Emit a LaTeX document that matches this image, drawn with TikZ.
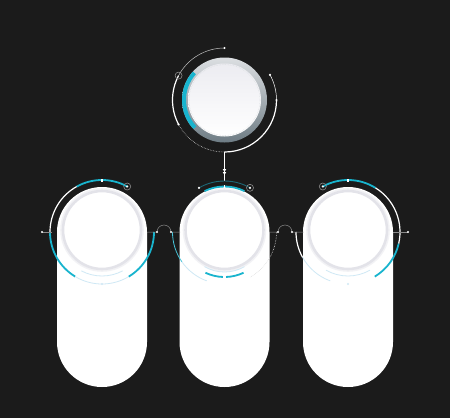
\documentclass[tikz,border=0pt]{standalone}
\usepackage{tikz}
\usetikzlibrary{arrows.meta}
\definecolor{bgdark}{HTML}{1B1B1B}
\definecolor{arccyan}{HTML}{18B4CE}
\definecolor{darkteal}{HTML}{1D6776}
\definecolor{ringgrey}{HTML}{E3E3E9}
\definecolor{ringpale}{HTML}{F2F2F5}
\definecolor{faintblue}{HTML}{CFE8F5}
\definecolor{slate}{HTML}{6E7C84}
\definecolor{silver}{HTML}{DCDFE2}
\definecolor{diskgrey}{HTML}{ECECF1}
\definecolor{linkgrey}{HTML}{8A8A8A}
\tikzset{
	pill/.style={fill=white},
	ring/.style={draw=ringgrey,line width=2.6pt},
	ringshade/.style={draw=ringpale,line width=1.6pt},
	topdisk/.style={circle,minimum size=73pt,inner sep=0pt,top color=diskgrey,bottom color=white},
	dotring/.style={draw=silver,line width=0.6pt,densely dotted},
	cyanarc/.style={draw=arccyan,line width=1.8pt},
	whitearc/.style={draw=white,line width=1.2pt},
	thinarc/.style={draw=white!75!black,line width=0.5pt},
	dotarc/.style={draw=white!85!black,line width=0.6pt,densely dotted},
	faintarc/.style={draw=faintblue,line width=0.8pt},
	tealarc/.style={draw=darkteal,line width=0.9pt},
	tick/.style={draw=white,line width=1.2pt},
	dotmark/.style={circle,fill=white,inner sep=0pt,minimum size=2.4pt},
	ringmark/.style={circle,draw=linkgrey,line width=0.6pt,inner sep=0pt,minimum size=7pt},
	link/.style={draw=linkgrey,line width=0.5pt},
	edge/.style={draw=white,line width=0.6pt,-{Latex[length=3pt,width=4pt] Latex[length=3pt,width=4pt]}}
}
\begin{document}
\begin{tikzpicture}[x=1pt,y=1pt]
	\fill[bgdark] (0,0) rectangle (450,-418);
	\coordinate (T) at (224.5,-100);
	\coordinate (L) at (102,-232);
	\coordinate (M) at (224.5,-232);
	\coordinate (R) at (348,-232);
	
	% pills with their rings
	\foreach \p in {L,M,R} {
		\fill[pill] (\p) ++(-45,0) arc (180:0:45pt) -- ++(0,-110) arc (0:-180:45pt) -- cycle;
		\draw[ringshade] (\p) ++(0,2) circle (41pt);
		\draw[ring] (\p) ++(0,2) circle (39pt);
	}
	
	% top circle
	\shade[top color=silver,bottom color=slate] (T) circle (42.5pt);
	\draw[arccyan,line width=4pt] (T) ++(138:40.5pt) arc (138:223:40.5pt);
	\node[topdisk] (top) at (T) {};
	\draw[dotring] (T) circle (35.5pt);
	\draw[thinarc] (T) ++(90:52pt) arc (90:152:52pt);
	\draw[whitearc] (T) ++(152:52pt) arc (152:208:52pt);
	\draw[dotarc] (T) ++(208:52pt) arc (208:270:52pt);
	\draw[whitearc] (T) ++(270:52pt) arc (270:360:52pt);
	\draw[thinarc,draw=white] (T) ++(0:52pt) arc (0:29:52pt);
	\path (T) ++(90:52pt) node[dotmark] {} (T) ++(0:52pt) node[dotmark] {}
		(T) ++(29:52pt) node[dotmark] {} (T) ++(208:52pt) node[dotmark] {};
	\path (T) ++(152:52pt) node[ringmark] (tm) {};
	
	% arrow down to the middle pill
	\coordinate (tb) at (224.5,-152);
	\coordinate (ah) at (224.5,-175);
	\coordinate (mb) at (224.5,-181);
	\draw[link,draw=white] (tb) -- (mb);
	\draw[edge] (tb) -- (ah);
	
	% left pill
	\draw[whitearc] (L) ++(180:52pt) arc (180:119:52pt);
	\draw[cyanarc] (L) ++(119:52pt) arc (119:61:52pt);
	\draw[cyanarc] (L) ++(180:52pt) arc (180:239:52pt);
	\draw[faintarc] (L) ++(239:52pt) arc (239:301:52pt);
	\draw[faintarc] (L) ++(242:44pt) arc (242:298:44pt);
	\draw[cyanarc] (L) ++(301:52pt) arc (301:360:52pt);
	\draw[tick] (L) ++(90:50.5pt) -- ++(0,3);
	\path (L) ++(61:52pt) node[ringmark] (lm) {};
	\node[dotmark] at (lm) {};
	\path (L) ++(270:52pt) node[dotmark,fill=faintblue] {};
	
	% middle pill
	\draw[tealarc] (M) ++(120:51pt) arc (120:60:51pt);
	\draw[cyanarc] (M) ++(116:45.5pt) arc (116:64:45.5pt);
	\draw[tick] (M) ++(90:44pt) -- ++(0,3);
	\path (M) ++(120:51pt) node[dotmark] {};
	\path (M) ++(60:51pt) node[ringmark] (mm) {};
	\node[dotmark] at (mm) {};
	\draw[arccyan!80,line width=0.8pt] (M) ++(180:52pt) arc (180:215:52pt);
	\draw[faintarc] (M) ++(215:52pt) arc (215:250:52pt);
	\draw[dotarc] (M) ++(0:52pt) arc (0:-60:52pt);
	\draw[cyanarc] (M) ++(245:45pt) arc (245:268:45pt);
	\draw[cyanarc] (M) ++(272:45pt) arc (272:295:45pt);
	\draw[faintarc] (M) ++(240:40pt) arc (240:300:40pt);
	
	% right pill
	\draw[cyanarc] (R) ++(119:52pt) arc (119:58:52pt);
	\draw[whitearc] (R) ++(58:52pt) arc (58:-13:52pt);
	\draw[cyanarc] (R) ++(-13:52pt) arc (-13:-59:52pt);
	\draw[whitearc] (R) ++(180:52pt) arc (180:209:52pt);
	\draw[faintarc] (R) ++(209:52pt) arc (209:250:52pt);
	\draw[faintarc] (R) ++(240:44pt) arc (240:300:44pt);
	\draw[tick] (R) ++(90:50.5pt) -- ++(0,3);
	\path (R) ++(119:52pt) node[ringmark] (rm) {};
	\node[dotmark] at (rm) {};
	\path (R) ++(270:52pt) node[dotmark,fill=faintblue] {};
	
	% horizontal links
	\coordinate (a0) at (42,-232);
	\coordinate (a1) at (52,-232);
	\coordinate (b0) at (147,-232);
	\coordinate (b1) at (157,-232);
	\coordinate (b2) at (171,-232);
	\coordinate (b3) at (180,-232);
	\coordinate (c0) at (269.5,-232);
	\coordinate (c1) at (278,-232);
	\coordinate (c2) at (292,-232);
	\coordinate (c3) at (303.5,-232);
	\coordinate (d0) at (393,-232);
	\coordinate (d1) at (408,-232);
	\draw[link] (a0) -- (a1);
	\draw[link] (b0) -- (b1) arc (180:0:7pt) -- (b3);
	\draw[link] (c0) -- (c1) arc (180:0:7pt) -- (c3);
	\draw[link] (d0) -- (d1);
	\foreach \q in {a0,b1,b2,c1,c2,d1} \node[dotmark] at (\q) {};
\end{tikzpicture}
\end{document}
